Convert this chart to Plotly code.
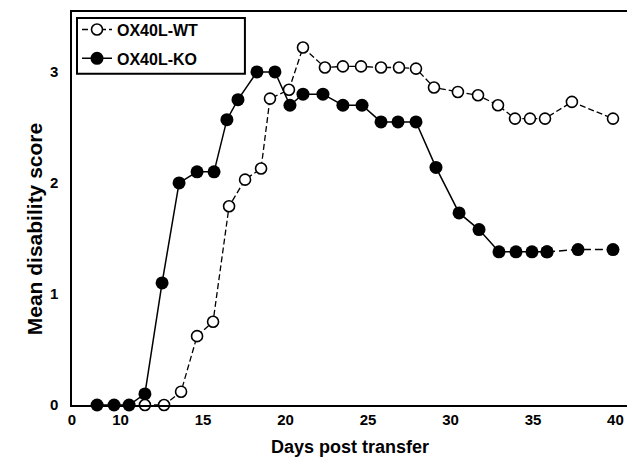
import plotly.graph_objects as go

# Days post transfer
ko_days = [8.58, 9.61, 10.52, 11.48, 12.52, 13.55, 14.64, 15.67, 16.45, 17.12,
           18.27, 19.36, 20.27, 21.06, 22.27, 23.48, 24.64, 25.79, 26.82, 27.91,
           29.12, 30.52, 31.73, 32.94, 33.97, 34.94, 35.85, 37.73, 39.85]
ko_score = [0.0, 0.0, 0.0, 0.1, 1.1, 2.0, 2.1, 2.1, 2.57, 2.75,
            3.0, 3.0, 2.7, 2.8, 2.8, 2.7, 2.7, 2.55, 2.55, 2.55,
            2.14, 1.73, 1.58, 1.38, 1.38, 1.38, 1.38, 1.4, 1.4]

wt_days = [11.48, 12.64, 13.67, 14.64, 15.61, 16.58, 17.55, 18.52, 19.06, 20.21,
           21.06, 22.39, 23.48, 24.58, 25.79, 26.88, 27.91, 29.0, 30.45, 31.67,
           32.88, 33.91, 34.82, 35.73, 37.36, 39.85]
wt_score = [0.0, 0.0, 0.12, 0.62, 0.75, 1.79, 2.03, 2.13, 2.76, 2.84,
            3.22, 3.04, 3.05, 3.05, 3.04, 3.04, 3.03, 2.86, 2.82, 2.79,
            2.70, 2.58, 2.58, 2.58, 2.73, 2.58]

x_tickvals = [7.06, 10, 15, 20, 25, 30, 35, 40]
x_ticktext = ["0", "10", "15", "20", "25", "30", "35", "40"]
y_tickvals = [0, 1, 2, 3]
y_ticktext = ["0", "1", "2", "3"]

FONT = "Liberation Sans, Arial, sans-serif"
n_solid = len(ko_days) - 2  # last two KO segments are dashed

fig = go.Figure()

fig.add_trace(go.Scatter(
    x=ko_days[:n_solid], y=ko_score[:n_solid], mode="lines+markers",
    name="OX40L-KO", legendgroup="ko", legendrank=2,
    line=dict(color="black", width=1.5),
    marker=dict(symbol="circle", size=13, color="black"),
    cliponaxis=False,
))
fig.add_trace(go.Scatter(
    x=ko_days[n_solid - 1:], y=ko_score[n_solid - 1:], mode="lines+markers",
    name="OX40L-KO", legendgroup="ko", showlegend=False,
    line=dict(color="black", width=1.5, dash="8px,4px"),
    marker=dict(symbol="circle", size=13, color="black"),
    cliponaxis=False,
))
fig.add_trace(go.Scatter(
    x=wt_days, y=wt_score, mode="lines+markers",
    name="OX40L-WT", legendgroup="wt", legendrank=1,
    line=dict(color="black", width=1.3, dash="6px,3px"),
    marker=dict(symbol="circle", size=11, color="white",
                line=dict(color="black", width=1.6)),
    cliponaxis=False,
))

# The page body has an 8px margin, so the figure is drawn 8px smaller.
fig.update_layout(
    width=627, height=451,
    margin=dict(l=64, r=7, t=2, b=54),
    paper_bgcolor="white", plot_bgcolor="white",
    font=dict(family=FONT, color="black", size=15),
    showlegend=True,
    legend=dict(
        x=0.009, y=0.9985, xanchor="left", yanchor="top",
        borderwidth=0, bgcolor="rgba(0,0,0,0)",
        font=dict(family=FONT, size=16, color="black", weight="bold"),
        traceorder="grouped", tracegroupgap=5, itemwidth=30,
    ),
    shapes=[dict(
        type="rect", xref="paper", yref="paper",
        x0=0.009, x1=0.311, y0=0.843, y1=0.985,
        line=dict(color="black", width=2), fillcolor="rgba(0,0,0,0)",
        layer="below",
    )],
    xaxis=dict(
        range=[7.06, 40.76], tickvals=x_tickvals, ticktext=x_ticktext,
        showgrid=False, zeroline=False, ticks="",
        showline=True, linecolor="black", linewidth=1.5, mirror=True,
        tickfont=dict(family=FONT, size=15, weight="bold"),
        ticklabelstandoff=0,
        title=dict(text="Days post transfer",
                   font=dict(family=FONT, size=18, weight="bold"), standoff=14),
    ),
    yaxis=dict(
        range=[0, 3.54], tickvals=y_tickvals, ticktext=y_ticktext,
        showgrid=False, zeroline=False, ticks="",
        showline=True, linecolor="black", linewidth=1.5, mirror=True,
        tickfont=dict(family=FONT, size=15, weight="bold"),
        ticklabelstandoff=9,
    ),
    annotations=[dict(
        text="Mean disability score", textangle=-90,
        xref="paper", yref="paper", x=-0.066, y=0.448,
        xanchor="center", yanchor="middle", showarrow=False,
        font=dict(family=FONT, size=21, weight="bold", color="black"),
    )],
)

fig.write_html("out.html")
